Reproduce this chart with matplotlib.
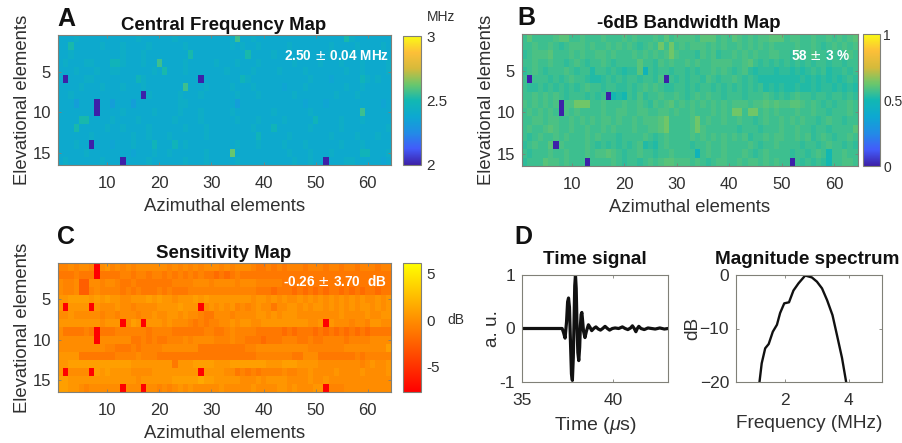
import numpy as np
import matplotlib
matplotlib.use("Agg")
import matplotlib.pyplot as plt
from matplotlib.colors import LinearSegmentedColormap

plt.rcParams['font.family'] = ['Liberation Sans', 'DejaVu Sans']
plt.rcParams['mathtext.fontset'] = 'custom'
plt.rcParams['mathtext.it'] = 'Liberation Sans:italic'

W, H = 903, 443

# maps are read per cell, one digit per element, groups of ten columns
freq_levels = [2.0, 2.33, 2.36, 2.39, 2.42, 2.47, 2.51, 2.56, 2.62]
freq_rows = [
    "3334333333 3333343333 3343333333 3334733433 3333333333 3333364333 3333",
    "3363333343 3343333433 3333433333 3334343343 3333433333 3343333433 3343",
    "3343333333 3343334333 3333363333 3333336333 3433333433 3343334333 3433",
    "3433344333 5543334337 3333433333 4333433343 3333343333 4333433343 3334",
    "3334333433 4433333343 6333433333 3343333433 3343333433 3333343343 3334",
    "3033344333 3333354333 3333333033 3333354333 3333333343 3323333354 3433",
    "3333433343 3343334333 3333733343 3334333433 3332333433 3333343343 3333",
    "3343333333 3333330433 3334333433 3333433343 3333343333 3334333433 3333",
    "3331333033 1333133333 3334433333 3333133333 3333333233 3233333333 3323",
    "3333333033 3343333343 3334333433 3334333333 3433333343 3333333373 3333",
    "3333663333 4333343333 3343333433 3333433343 3334333335 3333433343 3333",
    "3336333334 3343333433 3333433343 3333333433 3533333343 3333433333 3334",
    "3333334333 3333433433 3433333343 3333333353 3333433333 3343333433 3433",
    "3334330333 2333433353 3353433333 3333433343 3334333433 3333433343 3333",
    "3333343333 3333233343 3433333343 3338333333 3333433343 3343333355 3334",
    "3433333343 3303333433 3333433343 3333433333 3333343343 3033344333 3323",
]

band_levels = [0.0, 0.47, 0.50, 0.52, 0.54, 0.56, 0.58, 0.60, 0.63, 0.68]
band_rows = [
    "5755556775 5655565556 5655565756 6665777565 7656566777 5665565565 6567",
    "5565565456 6656556565 6545658585 6566656565 5656565655 5565565456 5656",
    "4566675556 5655665655 5656565686 5554656455 6565655665 5454565545 4565",
    "5565565545 6545565455 5575546565 5656556666 5567545454 5454545545 5455",
    "4565455565 4553554543 4471545545 5454556565 4564344434 4343454534 4545",
    "5055545456 5543345454 5545546054 5455465455 6545433333 3334343434 3454",
    "5445454545 4565545544 5456565445 5454554545 4545453434 3343343443 4343",
    "5565656545 5545450232 5464556556 5456565545 5545556545 4565545545 5454",
    "6565656066 8885565556 5565465675 6565656565 6665667676 6776565454 5565",
    "5656565065 6555565566 5566556656 5565556565 8858856565 5565565545 5565",
    "5566566556 5656566565 5656667855 5568565565 5655456556 5656554565 5455",
    "5655676556 5565565655 5655667855 5568655555 5455545556 5565545545 5557",
    "5456556565 5565655545 5556545655 5565656565 6564556566 5565645654 5565",
    "4565570655 5565454545 4563435655 5545565565 5556545565 5554554565 5454",
    "5455565565 5565667654 5565545565 5551565565 5565456555 5455456525 5655",
    "4555766565 5505555654 5545656776 6656545665 5656656565 5054545425 5665",
]

sens_levels = [-7.75, -2.6, -1.9, -1.2, -0.6, -0.1, 0.4, 0.9, 1.5, 2.2]
sens_rows = [
    "4454554056 4545455555 5454545455 5454555433 4343444344 4344344344 4344",
    "3334333033 3344344344 3434343433 2323433333 3333333333 3333333333 3333",
    "5445115545 5433433333 3344445554 5555455544 4443333333 3333333333 3333",
    "5445114544 4434343334 3433344444 4444444433 3233323232 3233232323 3233",
    "6677776767 6655666767 6656667676 6666666566 5656556565 6565656565 5656",
    "6066660655 5655455556 6667666056 5656454565 5355665656 6565656566 5656",
    "5565555545 5455545565 5665655433 5554555566 5656665555 5555655556 5566",
    "6666666656 6605760666 5655543434 4556566556 6666666655 6065554554 6655",
    "5333343033 3444444344 4433333344 3345444433 3332323332 3232323232 3333",
    "5555555055 5555334343 3444545555 4445443332 3334443343 3444434444 5555",
    "5555555554 4333434444 5555555333 3333334455 5555555544 4444455555 5557",
    "6666333333 3444454443 3333333333 3333333344 4444433555 3333333434 4444",
    "6677777777 7777666666 6636667777 6667777777 6667776666 5555555545 6556",
    "6055550767 6666555566 6666666066 6655343434 4445445565 5556555565 5556",
    "7766666666 6666656666 6677777877 6666655565 6666555565 5655555555 5555",
    "7766545555 5505550554 5456565555 5655555655 5566565556 6044455555 5555",
]

# panel D
time_us = [35, 36, 37, 37.2, 37.28, 37.36, 37.44, 37.5, 37.55, 37.6, 37.66, 37.71, 37.76,
           37.81, 37.85, 37.89, 37.93, 37.97, 38.01, 38.06, 38.11, 38.16, 38.2, 38.24,
           38.28, 38.32, 38.37, 38.45, 38.53, 38.64, 38.73, 38.82, 38.93, 39.05, 39.18,
           39.3, 39.42, 39.55, 39.68, 39.8, 39.95, 40.1, 40.3, 40.5, 40.65, 40.8, 40.95,
           41.05, 41.15, 41.24, 41.32, 41.4, 41.52, 41.7, 41.9, 42.1, 42.3, 42.55, 42.8, 43]
time_amp = [0, 0, 0, 0, -0.08, -0.18, 0.12, 0.5, 0.57, 0.4, -0.3, -0.85, -0.97, -0.55, 0.1,
            0.8, 1.0, 0.75, 0.1, -0.45, -0.6, -0.35, 0.05, 0.26, 0.3, 0.15, -0.05, -0.17,
            -0.05, 0.07, 0.02, -0.04, 0.0, 0.03, -0.01, -0.03, 0.0, 0.04, 0.0, -0.03, 0.0,
            0.01, 0.0, 0.03, -0.0, -0.02, 0.01, 0.05, 0.0, -0.06, 0.0, 0.04, 0.0, -0.02,
            0.01, 0.0, -0.01, 0.01, -0.01, 0.0]

spec_mhz = [1.19, 1.26, 1.37, 1.48, 1.61, 1.74, 1.84, 1.97, 2.12, 2.26, 2.42, 2.63, 2.84,
            3.0, 3.16, 3.32, 3.49, 3.63, 3.79, 3.92]
spec_db = [-20, -16.5, -13.7, -12.9, -10.6, -9.3, -7.1, -5.3, -5.1, -2.9, -1.55, -0.1, -0.45,
           -1.25, -2.5, -4.7, -7.5, -11.2, -15.5, -20]

parula = LinearSegmentedColormap.from_list("parula", [
    (0.0, (0.24, 0.13, 0.66)),
    (0.125, (0.26, 0.36, 0.98)),
    (0.25, (0.13, 0.55, 0.90)),
    (0.375, (0.05, 0.66, 0.82)),
    (0.5, (0.07, 0.72, 0.70)),
    (0.625, (0.42, 0.78, 0.42)),
    (0.75, (0.84, 0.73, 0.23)),
    (0.875, (0.99, 0.75, 0.22)),
    (1.0, (0.98, 0.98, 0.08)),
])

GREY = '#303030'
FRAME = '#808078'


def px_rect(left, top, right, bottom):
    return [left / W, 1 - bottom / H, (right - left) / W, (bottom - top) / H]


def decode(rows, levels):
    return np.array([[levels[int(c)] for c in r.replace(' ', '')] for r in rows])


def label(x, y, s, **kw):
    fig.text(x / W, 1 - y / H, s, va='center', **kw)


def style_ax(ax, size):
    for s in ax.spines.values():
        s.set_color(FRAME)
        s.set_linewidth(0.8)
    ax.tick_params(direction='in', length=2.5, width=0.6, color=FRAME, top=True, right=True,
                   labelsize=size, labelcolor=GREY)
    ax.tick_params(axis='x', pad=8)
    ax.tick_params(axis='y', pad=5)


def heatmap(data, cmap, vmin, vmax, rect, cbar_rect, ticks, ticklabels, title, title_x, note, note_x, note_y,
            cb_size=11, cb_pad=4):
    ax = fig.add_axes(px_rect(*rect))
    im = ax.imshow(data, cmap=cmap, vmin=vmin, vmax=vmax, aspect='auto',
                   extent=[0.5, 64.5, 16.5, 0.5], interpolation='nearest')
    ax.set_xticks([10, 20, 30, 40, 50, 60])
    ax.set_yticks([5, 10, 15])
    style_ax(ax, 12)
    ax.set_xlabel('Azimuthal elements', fontsize=13.3, color=GREY, labelpad=5)
    ax.set_ylabel('Elevational elements', fontsize=13.3, color=GREY, labelpad=1)
    label(title_x, rect[1] - 10, title, fontsize=13.4, fontweight='bold', ha='center', color='#111111')
    label(note_x, note_y, note, fontsize=9.8, fontweight='bold', ha='right', color='white')
    cax = fig.add_axes(px_rect(*cbar_rect))
    cb = fig.colorbar(im, cax=cax)
    cb.set_ticks(ticks)
    cb.set_ticklabels(ticklabels)
    cb.ax.tick_params(length=0, labelsize=cb_size, labelcolor=GREY, pad=cb_pad)
    cb.outline.set_edgecolor(FRAME)
    cb.outline.set_linewidth(0.8)
    return ax


fig = plt.figure(figsize=(W / 100, H / 100), dpi=100)

heatmap(decode(freq_rows, freq_levels), parula, 2, 3, (58, 35, 391, 165), (403, 36, 421, 165),
        [2, 2.5, 3], ['2', '2.5', '3'], 'Central Frequency Map', 224,
        '2.50 $\\pm$ 0.04 MHz', 389, 56)
heatmap(decode(band_rows, band_levels), parula, 0, 1, (522, 34, 858, 166), (863, 34, 880, 166),
        [0, 0.5, 1], ['0', '0.5', '1'], '-6dB Bandwidth Map', 689,
        '58 $\\pm$ 3 %', 850, 56, cb_size=10, cb_pad=2.5)
heatmap(decode(sens_rows, sens_levels), 'autumn', -7.75, 6.15, (58, 263, 391, 392), (403, 263, 421, 392),
        [-5, 0, 5], ['-5', '0', '5'], 'Sensitivity Map', 224,
        '-0.26 $\\pm$ 3.70  dB', 387, 281)

label(427, 17, 'MHz', fontsize=10, color=GREY)
label(447, 320, 'dB', fontsize=10, color=GREY)

# panel D
ax = fig.add_axes(px_rect(522, 275, 668, 382))
ax.plot(time_us, time_amp, color='#111111', lw=2.3, solid_joinstyle='round')
ax.set_xlim(35, 43)
ax.set_ylim(-1, 1)
ax.set_xticks([35, 40])
ax.set_yticks([-1, 0, 1])
ax.set_yticklabels(['-1', '0', '1'])
style_ax(ax, 12.5)
ax.set_xlabel('Time ($\\mu$s)', fontsize=14, color=GREY, labelpad=5)
ax.set_ylabel('a. u.', fontsize=13.7, color=GREY, labelpad=-1)
label(595, 260, 'Time signal', fontsize=13.6, fontweight='bold', ha='center', color='#111111')

ax = fig.add_axes(px_rect(736, 275, 882, 382))
ax.plot(spec_mhz, spec_db, color='#111111', lw=1.7)
ax.set_xlim(0.45, 5.05)
ax.set_ylim(-20, 0)
ax.set_xticks([2, 4])
ax.set_yticks([-20, -10, 0])
style_ax(ax, 12.5)
ax.set_xlabel('Frequency (MHz)', fontsize=13.7, color=GREY, labelpad=5)
ax.set_ylabel('dB', fontsize=13.7, color=GREY, labelpad=-1)
label(807, 260, 'Magnitude spectrum', fontsize=13.6, fontweight='bold', ha='center', color='#111111')

for x, y, s in [(57, 19, 'A'), (517, 18, 'B'), (57, 237, 'C'), (514, 237, 'D')]:
    label(x, y, s, fontsize=18, fontweight='bold', color='#111111')

fig.savefig('out.png', dpi=100)
